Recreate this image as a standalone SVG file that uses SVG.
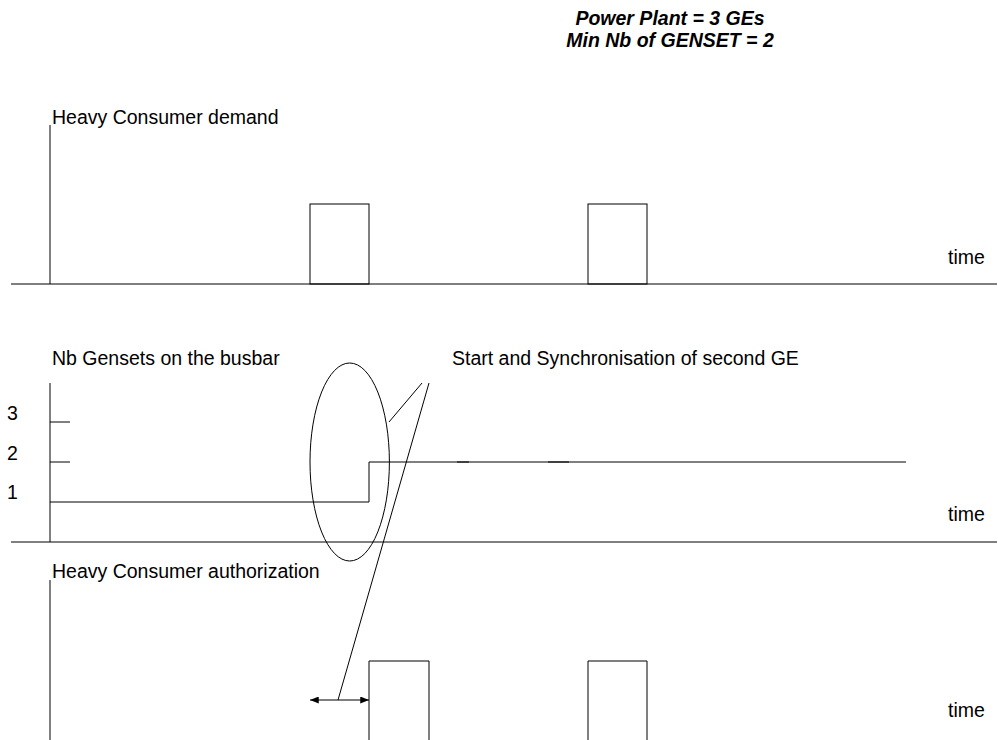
<svg xmlns="http://www.w3.org/2000/svg" width="998" height="740" viewBox="0 0 998 740">
<defs>
<style>
.t{font-family:"Liberation Sans",Arial,sans-serif;font-size:19.5px;fill:#000}
.tb{font-family:"Liberation Sans",Arial,sans-serif;font-size:19.5px;font-weight:bold;font-style:italic;fill:#000}
.ln{stroke:#000;stroke-width:1;fill:none}
</style>
<marker id="ah" viewBox="0 0 10 8" refX="10" refY="4" markerWidth="9" markerHeight="7" orient="auto-start-reverse" markerUnits="userSpaceOnUse">
<path d="M0,0 L10,4 L0,8 z" fill="#000"/>
</marker>
</defs>
<rect width="998" height="740" fill="#fff"/>
<g id="title">
<text class="tb" x="670" y="25" text-anchor="middle">Power Plant = 3 GEs</text>
<text class="tb" x="670" y="47" text-anchor="middle">Min Nb of GENSET = 2</text>
</g>
<g id="demand">
<text class="t" x="52" y="124">Heavy Consumer demand</text>
<line class="ln" x1="50" y1="125" x2="50" y2="284"/>
<line class="ln" x1="11" y1="284" x2="997" y2="284"/>
<rect class="ln" x="310" y="204" width="59" height="80"/>
<rect class="ln" x="588" y="204" width="59" height="80"/>
<text class="t" x="948" y="264">time</text>
</g>
<g id="gensets">
<text class="t" x="52" y="365">Nb Gensets on the busbar</text>
<line class="ln" x1="50" y1="383" x2="50" y2="542"/>
<line class="ln" x1="50" y1="422" x2="70" y2="422"/>
<line class="ln" x1="50" y1="462" x2="70" y2="462"/>
<text class="t" x="7" y="420">3</text>
<text class="t" x="7" y="460">2</text>
<text class="t" x="7" y="499">1</text>
<path class="ln" d="M50,502 H369 V462 H906"/>
<line class="ln" x1="457" y1="462" x2="469" y2="462"/>
<line class="ln" x1="548" y1="462" x2="569" y2="462"/>
<line class="ln" x1="11" y1="542" x2="997" y2="542"/>
<text class="t" x="948" y="521">time</text>
</g>
<g id="annotation">
<text class="t" x="452" y="365">Start and Synchronisation of second GE</text>
<ellipse class="ln" cx="349.7" cy="462" rx="39.7" ry="99"/>
</g>
<g id="authorization">
<text class="t" x="52" y="578">Heavy Consumer authorization</text>
<line class="ln" x1="50" y1="580" x2="50" y2="740"/>
<path class="ln" d="M369,740 V661 H429 V740"/>
<path class="ln" d="M588,740 V661 H647 V740"/>
<text class="t" x="948" y="717">time</text>
</g>
<g id="connectors">
<line class="ln" x1="389" y1="422" x2="422" y2="383"/>
<line class="ln" x1="429" y1="383" x2="338" y2="700"/>
<line class="ln" x1="310" y1="700" x2="369" y2="700" marker-start="url(#ah)" marker-end="url(#ah)"/>
</g>
</svg>
